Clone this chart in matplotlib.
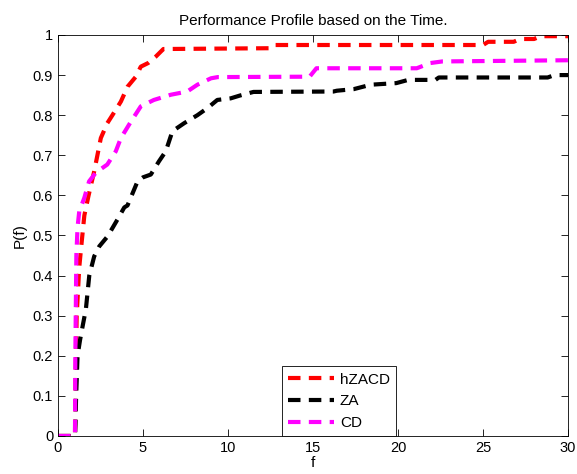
import matplotlib
matplotlib.use("Agg")
import matplotlib.pyplot as plt

plt.rcParams['font.family'] = ['Liberation Sans', 'DejaVu Sans']

# hZACD (red)
x_hzacd = [0, 1, 1.02, 1.1, 1.25, 1.35, 1.55, 1.8, 2.13, 2.52, 2.9, 3.2, 3.7, 4.09, 4.58,
           4.87, 5.3, 5.75, 6.2, 12.5, 12.7, 25.0, 25.3, 26.8, 27.2, 28.0, 28.4, 30]
y_hzacd = [0, 0, 0.1, 0.3, 0.42, 0.465, 0.55, 0.6, 0.66, 0.743, 0.78, 0.8, 0.834, 0.871, 0.896,
           0.921, 0.93, 0.946, 0.965, 0.967, 0.975, 0.975, 0.983, 0.983, 0.99, 0.99, 0.997, 0.997]

# ZA (black)
x_za = [0, 1, 1.03, 1.06, 1.15, 1.3, 1.45, 1.64, 1.84, 2.13, 2.43, 2.92, 3.5, 3.9, 4.09, 4.68,
        5.0, 5.46, 5.94, 6.34, 6.73, 7.42, 8.2, 8.8, 9.37, 10.16, 10.7, 11.5, 16.2, 16.4, 17.4,
        18.4, 19.9, 20.6, 22.2, 22.4, 28.8, 29.2, 30]
y_za = [0, 0, 0.03, 0.09, 0.2, 0.24, 0.274, 0.316, 0.4, 0.448, 0.473, 0.498, 0.54, 0.57, 0.575,
        0.635, 0.645, 0.652, 0.685, 0.71, 0.76, 0.78, 0.8, 0.818, 0.838, 0.842, 0.849, 0.858,
        0.859, 0.861, 0.865, 0.876, 0.88, 0.888, 0.888, 0.894, 0.894, 0.9, 0.9]

# CD (magenta)
x_cd = [0, 1, 1.02, 1.08, 1.15, 1.25, 1.55, 1.83, 2.23, 2.9, 3.4, 3.7, 4.29, 4.87, 5.64, 6.64,
        7.6, 8.2, 9.0, 9.4, 14.8, 15.2, 21.1, 21.9, 22.6, 30]
y_cd = [0, 0, 0.2, 0.45, 0.52, 0.56, 0.594, 0.635, 0.657, 0.677, 0.71, 0.743, 0.784, 0.822,
        0.838, 0.851, 0.859, 0.876, 0.892, 0.895, 0.896, 0.917, 0.917, 0.93, 0.934, 0.937]

xticks = [0, 5, 10, 15, 20, 25, 30]
yticks = [0, 0.1, 0.2, 0.3, 0.4, 0.5, 0.6, 0.7, 0.8, 0.9, 1]
ytick_labels = ['0', '0.1', '0.2', '0.3', '0.4', '0.5', '0.6', '0.7', '0.8', '0.9', '1']

fig = plt.figure(figsize=(5.77, 4.74), dpi=100)
ax = fig.add_axes([0.1005, 0.0802, 0.884, 0.846])

dash = (0, (3, 2))
ax.plot(x_hzacd, y_hzacd, color='red', lw=3, linestyle=dash, label='hZACD')
ax.plot(x_za, y_za, color='black', lw=3, linestyle=dash, label='ZA')
ax.plot(x_cd, y_cd, color='magenta', lw=3, linestyle=dash, label='CD')

ax.set_xlim(0, 30)
ax.set_ylim(0, 1)
ax.set_xticks(xticks)
ax.set_xticklabels([str(t) for t in xticks])
ax.set_yticks(yticks)
ax.set_yticklabels(ytick_labels)
ax.tick_params(direction='in', top=True, right=True, length=5, labelsize=10.5, width=0.6)
for s in ax.spines.values():
    s.set_linewidth(0.6)

ax.set_title('Performance Profile based on the Time.', fontsize=11, pad=7)
ax.set_xlabel('f', fontsize=11, labelpad=1)
ax.set_ylabel('P(f)', fontsize=11)

leg = ax.legend(loc='lower left', bbox_to_anchor=(0.439, 0.0), borderaxespad=0,
                fancybox=False, edgecolor='black', framealpha=1, fontsize=11,
                handlelength=3, handletextpad=0.4, labelspacing=0.5)
leg.get_frame().set_linewidth(0.6)

fig.savefig('out.png', dpi=100)
